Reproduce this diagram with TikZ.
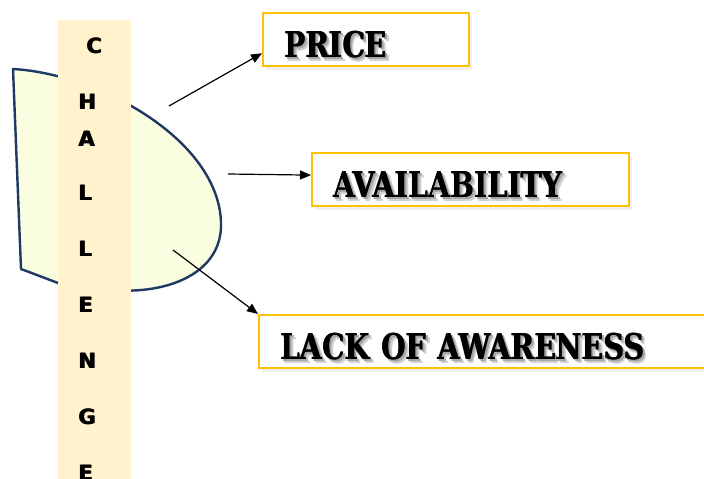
\documentclass[tikz,border=0pt]{standalone}
\usepackage{fontspec}
\usetikzlibrary{arrows.meta,calc,shadows}
\newfontfamily\stencilfont[FakeStretch=0.8]{DejaVu Serif}
\newfontfamily\blackfont{DejaVu Sans}
\definecolor{stripfill}{HTML}{FFF2CC}
\definecolor{blobfill}{HTML}{FAFDE0}
\definecolor{blobline}{HTML}{1F3864}
\definecolor{gold}{HTML}{FFC000}
\newcommand\heavy[1]{\rlap{\hspace{0.8pt}#1}#1}
\newcommand\shadowtext[1]{\rlap{\hspace{3.5pt}\raisebox{-4.5pt}{\color{black!18}\heavy{#1}}}\rlap{\hspace{2pt}\raisebox{-2.5pt}{\color{black!35}\heavy{#1}}}\heavy{#1}}

\begin{document}
\begin{tikzpicture}[x=1pt,y=-1pt,
  box/.style={draw=gold,line width=2pt,fill=white,anchor=north west,inner xsep=21pt,inner ysep=0pt,
    text height=44pt,text depth=9pt,align=left,font=\stencilfont\bfseries\fontsize{35.5}{36}\selectfont,
    drop shadow={shadow xshift=3pt,shadow yshift=-4pt,opacity=0.12}},
  letter/.style={anchor=west,inner sep=0pt,font=\blackfont\bfseries\fontsize{21}{21}\selectfont},
  link/.style={-{Triangle[length=11pt,width=9pt]},line width=1.2pt}]
\useasboundingbox (0,0) rectangle (704,479);
\clip (0,0) rectangle (704,479);

\draw[blobline,fill=blobfill,line width=2.4pt,line join=round]
  (13,69) .. controls (100,74) and (218,140) .. (221,222)
  .. controls (223,272) and (170,295) .. (110,290)
  .. controls (90,288) and (70,287) .. (58,283) -- (21,269) -- cycle;

\node (strip) [fill=stripfill,anchor=north west,minimum width=73pt,minimum height=470pt,inner sep=0pt] at (58,20) {};
\node[letter] (c0) at (86,46) {\heavy{C}};
\foreach \ch/\yy [count=\i] in {H/102,A/139,L/193,L/249,E/305,N/361,G/417,E/473}
  \node[letter] (c\i) at (78,\yy) {\heavy{\ch}};

\node[box,text width=164pt] (price) at (262,12) {\shadowtext{PRICE}};
\node[box,text width=275pt] (avail) at (311,152) {\shadowtext{AVAILABILITY}};
\node[box,text width=413pt] (lack) at (258,314) {\shadowtext{LACK OF AWARENESS}};

\coordinate (s1) at (169,106);
\coordinate (s2) at (228,174);
\coordinate (s3) at (173,250);
\draw[link] (s1) -- ($(price.south west)!0.25!(price.north west)$);
\draw[link] (s2) -- ($(avail.south west)!0.58!(avail.north west)$);
\draw[link] (s3) -- (lack.north west);
\end{tikzpicture}
\end{document}
